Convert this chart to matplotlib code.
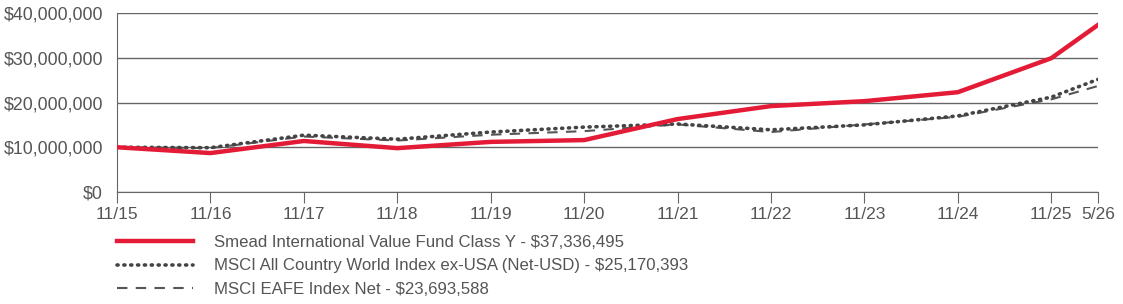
import matplotlib
matplotlib.use("Agg")
import matplotlib.pyplot as plt
from matplotlib.ticker import FuncFormatter

plt.rcParams['font.family'] = ['Liberation Sans', 'DejaVu Sans']

x_labels = ["11/15", "11/16", "11/17", "11/18", "11/19", "11/20", "11/21",
            "11/22", "11/23", "11/24", "11/25", "5/26"]
x_pos = [0, 1, 2, 3, 4, 5, 6, 7, 8, 9, 10, 10.5]

fund = [10.0, 8.7, 11.4, 9.8, 11.2, 11.6, 16.3, 19.2, 20.3, 22.3, 29.9, 37.336495]
acwi = [10.0, 9.9, 12.7, 11.8, 13.4, 14.5, 15.2, 13.9, 15.0, 17.0, 21.2, 25.170393]
eafe = [10.0, 9.8, 12.4, 11.5, 12.8, 13.6, 15.1, 13.4, 15.1, 16.8, 20.7, 23.693588]

names = ["Smead International Value Fund Class Y - $37,336,495",
         "MSCI All Country World Index ex-USA (Net-USD) - $25,170,393",
         "MSCI EAFE Index Net - $23,693,588"]

fig = plt.figure(figsize=(11.23, 3.04), dpi=100)
ax = fig.add_axes([117/1123, 1-192/304, (1098-117)/1123, (192-13)/304])

scale = 1e6
ax.plot(x_pos, [v*scale for v in eafe], color="#555555", lw=1.5, ls=(0, (5, 4)), label=names[2], zorder=3)
ax.plot(x_pos, [v*scale for v in acwi], color="#444444", lw=2.6, ls=(0, (0.3, 1.6)),
        dash_capstyle="round", label=names[1], zorder=4)
ax.plot(x_pos, [v*scale for v in fund], color="#e31b36", lw=3.2, label=names[0], zorder=5)

ax.set_xlim(0, 10.5)
ax.set_ylim(0, 40e6)
ax.set_yticks([0, 10e6, 20e6, 30e6, 40e6])
ax.yaxis.set_major_formatter(FuncFormatter(lambda v, p: "${:,.0f}".format(v)))
ax.set_xticks(x_pos)
ax.set_xticklabels(x_labels)

for s in ["top", "right"]:
    ax.spines[s].set_visible(False)
ax.spines["left"].set_color("#666666")
ax.spines["bottom"].set_color("#666666")
ax.grid(axis="y", color="#666666", lw=1)
ax.set_axisbelow(True)
ax.tick_params(axis="y", length=0, pad=10, labelsize=12.8, labelcolor="#555555")
ax.tick_params(axis="x", length=8, color="#666666", pad=3, labelsize=12.5, labelcolor="#555555")

handles, labels = ax.get_legend_handles_labels()
order = [2, 1, 0]
leg = fig.legend([handles[i] for i in order], [labels[i] for i in order],
                 loc="upper left", bbox_to_anchor=(117/1123, 1-235/304),
                 frameon=False, fontsize=12.1, handlelength=4.5, handletextpad=1.25,
                 labelspacing=0.5, borderaxespad=0, borderpad=0)
for t in leg.get_texts():
    t.set_color("#555555")

fig.savefig("out.png", dpi=100)
